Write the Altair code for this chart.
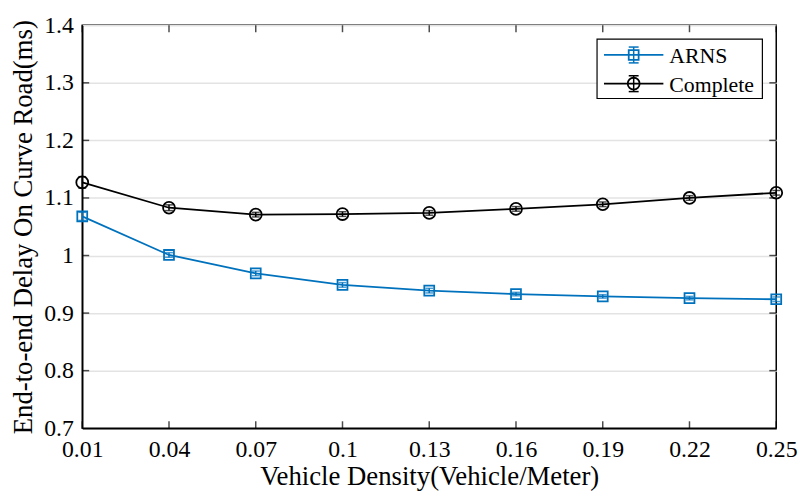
import altair as alt
import pandas as pd

density = [0.01, 0.04, 0.07, 0.1, 0.13, 0.16, 0.19, 0.22, 0.25]
arns = [1.068, 1.001, 0.969, 0.949, 0.939, 0.933, 0.929, 0.926, 0.924]
arns_err = [0.007, 0.004, 0.004, 0.004, 0.004, 0.003, 0.003, 0.003, 0.004]
complete = [1.127, 1.083, 1.071, 1.072, 1.074, 1.081, 1.089, 1.100, 1.109]
complete_err = [0.010, 0.005, 0.004, 0.004, 0.004, 0.004, 0.004, 0.004, 0.004]
series_names = ["ARNS", "Complete"]
series_colors = ["#0072BD", "#000000"]
series_shapes = ["square", "circle"]
series_sizes = [100, 144]
x_ticks = [0.01, 0.04, 0.07, 0.1, 0.13, 0.16, 0.19, 0.22, 0.25]
y_ticks = [0.7, 0.8, 0.9, 1.0, 1.1, 1.2, 1.3, 1.4]

rows = []
for name, vals, errs in [("ARNS", arns, arns_err), ("Complete", complete, complete_err)]:
    for d, v, e in zip(density, vals, errs):
        rows.append({"density": d, "delay": v, "lo": v - e, "hi": v + e, "series": name})
df = pd.DataFrame(rows)

W, H = 701, 407
FONT = "Liberation Serif"

xscale = alt.Scale(domain=[0.01, 0.25], nice=False, zero=False)
yscale = alt.Scale(domain=[0.7, 1.4], nice=False, zero=False)
cscale = alt.Scale(domain=series_names, range=series_colors)

xenc = alt.X("density:Q", scale=xscale,
             axis=alt.Axis(values=x_ticks, format=".2~f", title="Vehicle Density(Vehicle/Meter)",
                           grid=False, ticks=False, labelPadding=10, titlePadding=2,
                           labelFlush=False))
yenc = alt.Y("delay:Q", scale=yscale,
             axis=alt.Axis(values=y_ticks, format=".1~f", title="End-to-end Delay On Curve Road(ms)",
                           grid=True, ticks=False, labelPadding=9, titlePadding=6))

base = alt.Chart(df)
ccol = alt.Color("series:N", scale=cscale, legend=None)

lines = base.mark_line(strokeWidth=1.8).encode(x=xenc, y=yenc, color=ccol)

err_rule = base.mark_rule(strokeWidth=1.5).encode(
    x="density:Q", y="lo:Q", y2="hi:Q", color=ccol)
err_lo = base.mark_tick(orient="horizontal", size=8, thickness=1.5).encode(
    x="density:Q", y="lo:Q", color=ccol)
err_hi = base.mark_tick(orient="horizontal", size=8, thickness=1.5).encode(
    x="density:Q", y="hi:Q", color=ccol)

point_layers = []
for name, shp, sz in zip(series_names, series_shapes, series_sizes):
    point_layers.append(
        base.transform_filter(alt.datum.series == name).mark_point(
            shape=shp, size=sz, filled=False, strokeWidth=1.8, opacity=1
        ).encode(x="density:Q", y="delay:Q", color=ccol)
    )

# inward ticks on all four sides (MATLAB box style)
tdf = pd.DataFrame({"t": x_ticks})
ydf = pd.DataFrame({"t": y_ticks[1:-1]})
tick_bottom = alt.Chart(tdf).mark_tick(orient="vertical", size=7, thickness=1.5, color="black", yOffset=-3.5).encode(
    x=alt.X("t:Q"), y=alt.value(H))
tick_top = alt.Chart(tdf).mark_tick(orient="vertical", size=7, thickness=1.5, color="black", yOffset=3.5).encode(
    x=alt.X("t:Q"), y=alt.value(0))
tick_left = alt.Chart(ydf).mark_tick(orient="horizontal", size=7, thickness=1.5, color="black", xOffset=3.5).encode(
    y=alt.Y("t:Q"), x=alt.value(0))
tick_right = alt.Chart(ydf).mark_tick(orient="horizontal", size=7, thickness=1.5, color="black", xOffset=-3.5).encode(
    y=alt.Y("t:Q"), x=alt.value(W))

# legend box (drawn manually, MATLAB style)
one = alt.Chart(pd.DataFrame({"k": [0]}))
LX0, LX1, LY0, LY1 = 520, 687, 14, 74
leg_layers = [
    one.mark_rect(fill="white", stroke="black", strokeWidth=1.2).encode(
        x=alt.value(LX0), x2=alt.value(LX1), y=alt.value(LY0), y2=alt.value(LY1))
]
row_y = [30, 59]
for name, col, shp, sz, ry in zip(series_names, series_colors, series_shapes, series_sizes, row_y):
    leg_layers += [
        one.mark_rule(color=col, strokeWidth=1.8).encode(
            x=alt.value(527), x2=alt.value(587), y=alt.value(ry)),
        one.mark_rule(color=col, strokeWidth=1.5).encode(
            x=alt.value(557), y=alt.value(ry - 8), y2=alt.value(ry + 8)),
        one.mark_rule(color=col, strokeWidth=1.5).encode(
            x=alt.value(552), x2=alt.value(562), y=alt.value(ry - 8)),
        one.mark_rule(color=col, strokeWidth=1.5).encode(
            x=alt.value(552), x2=alt.value(562), y=alt.value(ry + 8)),
        one.mark_point(shape=shp, size=sz, filled=False, color=col, strokeWidth=1.8, opacity=1).encode(
            x=alt.value(557), y=alt.value(ry)),
        one.mark_text(text=name, align="left", baseline="middle", font=FONT, fontSize=22,
                      color="black").encode(x=alt.value(593), y=alt.value(ry + 1)),
    ]

chart = alt.layer(
    lines, err_rule, err_lo, err_hi, *point_layers,
    tick_bottom, tick_top, tick_left, tick_right, *leg_layers
).properties(
    width=W, height=H,
    autosize=alt.AutoSizeParams(type="none"),
    padding={"left": 75, "top": 15, "right": 24, "bottom": 62},
).configure_view(
    stroke="black", strokeWidth=1.5
).configure_axis(
    domainColor="black", domainWidth=1.5,
    labelFont=FONT, labelFontSize=24, labelColor="black",
    titleFont=FONT, titleFontSize=27, titleFontWeight="normal", titleColor="black",
    gridColor="#e3e3e3", gridWidth=1.5,
)

chart.save("out.html", embed_options={"renderer": "svg", "actions": False})
